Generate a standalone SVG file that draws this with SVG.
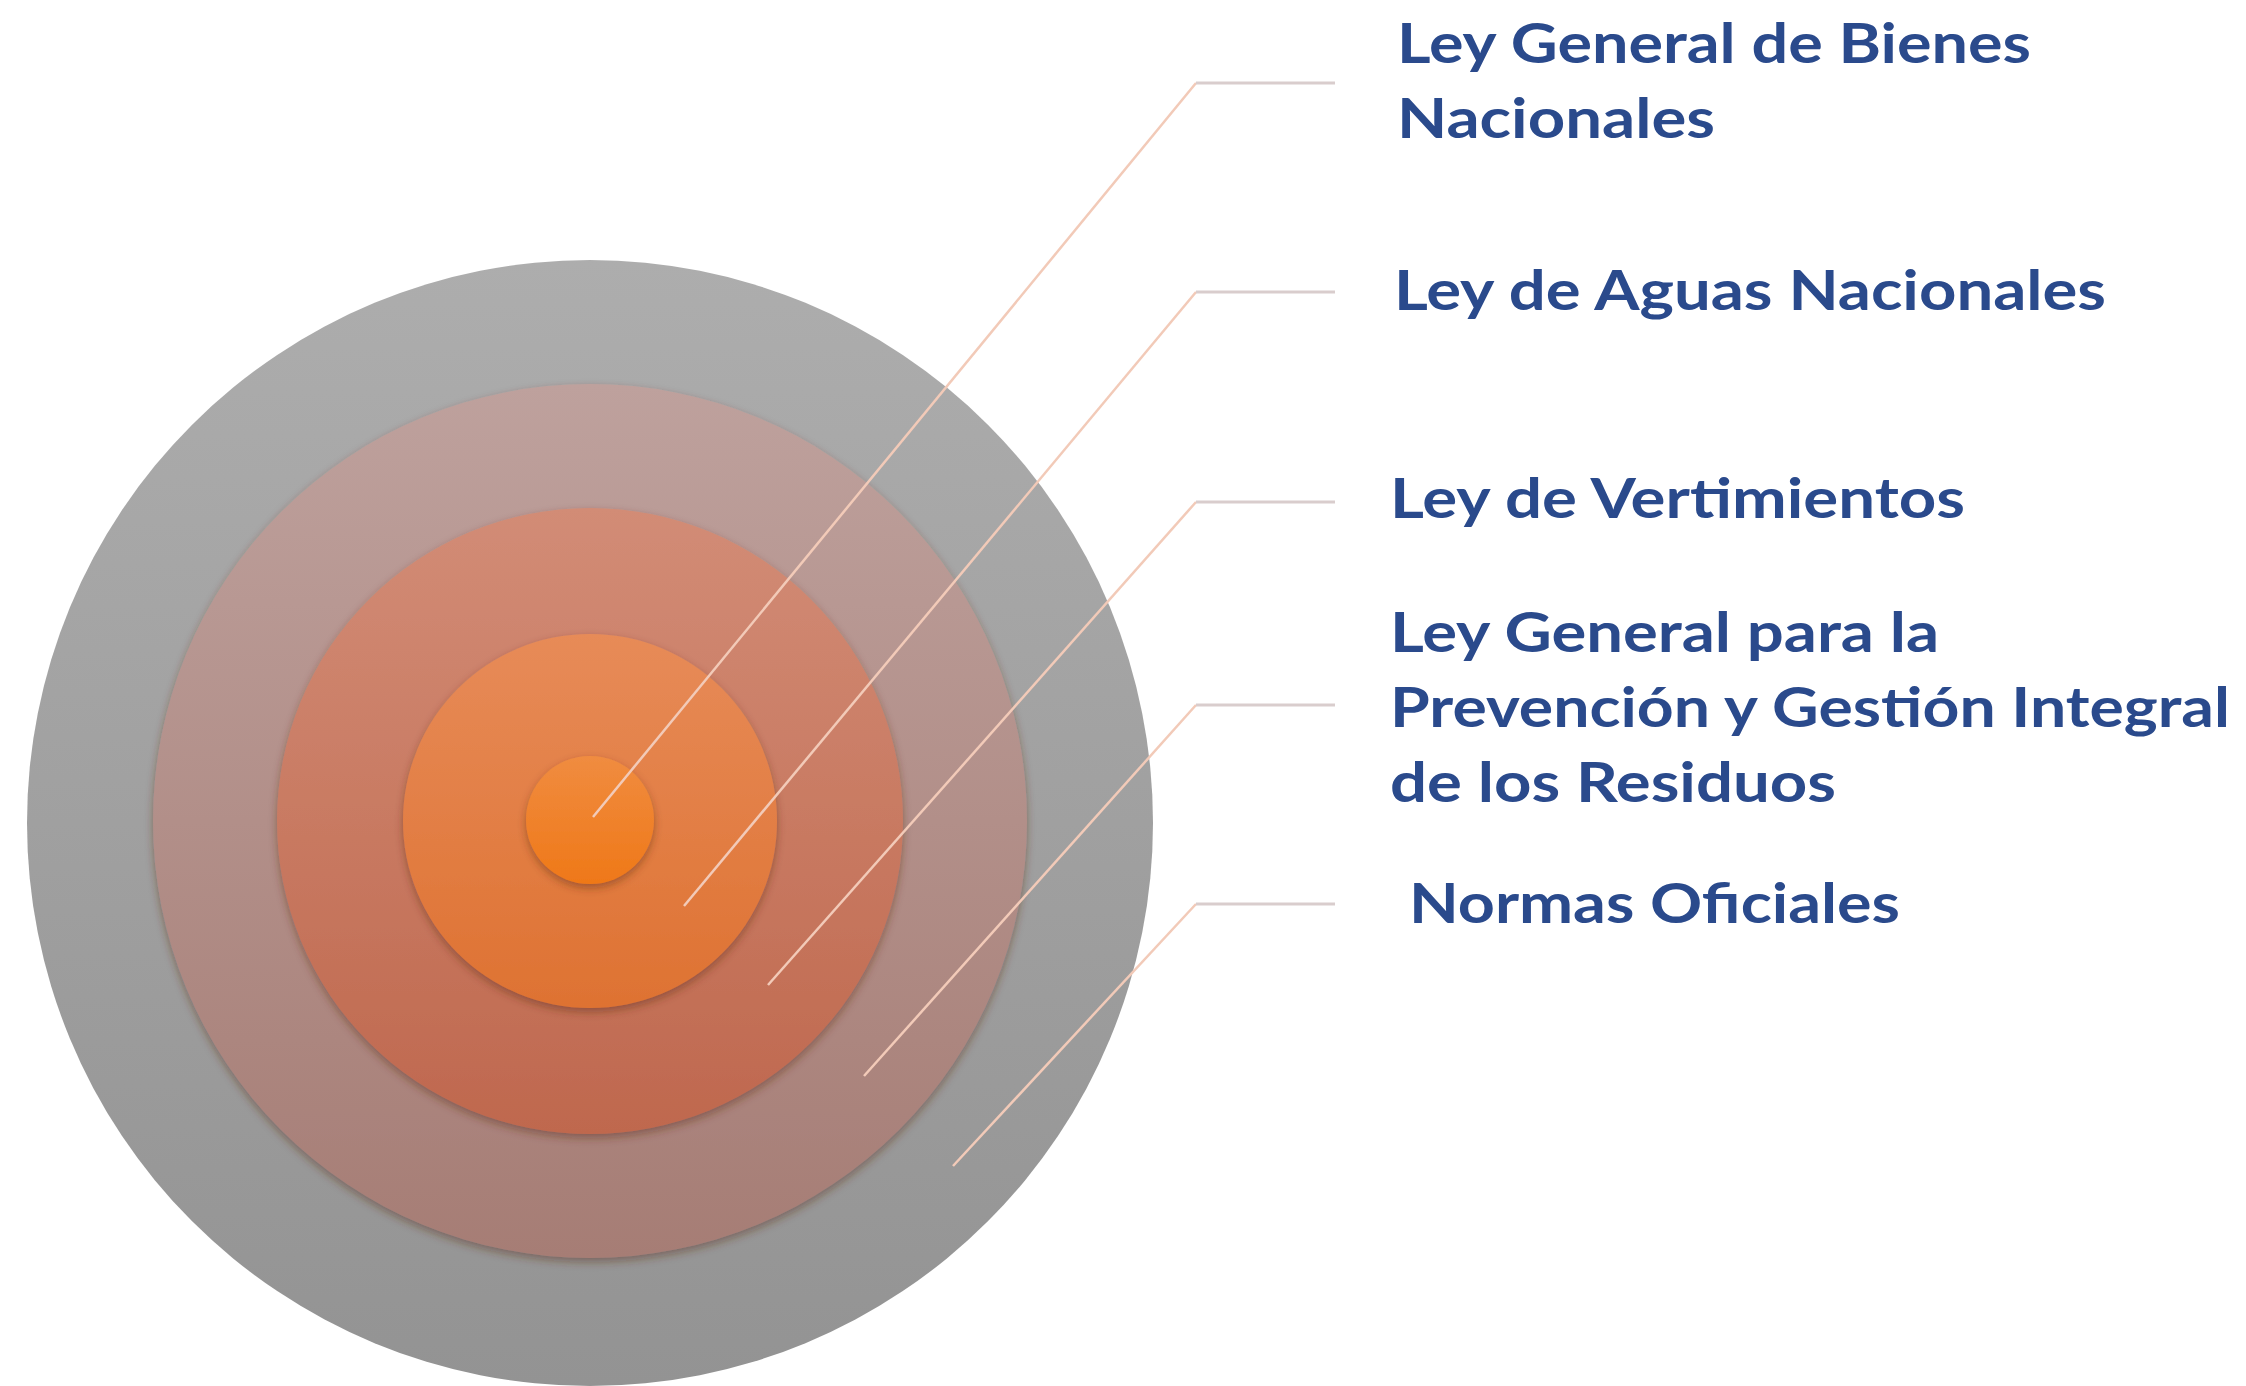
<svg xmlns="http://www.w3.org/2000/svg" width="2246" height="1386" viewBox="0 0 2246 1386">
<defs>
<linearGradient id="gOuter" x1="0" y1="0" x2="0" y2="1"><stop offset="0" stop-color="#adadad"/><stop offset="1" stop-color="#939393"/></linearGradient>
<linearGradient id="g2" x1="0" y1="0" x2="0" y2="1"><stop offset="0" stop-color="#bea19d"/><stop offset="1" stop-color="#a67d75"/></linearGradient>
<linearGradient id="g3" x1="0" y1="0" x2="0" y2="1"><stop offset="0" stop-color="#d28c76"/><stop offset="1" stop-color="#bf684e"/></linearGradient>
<linearGradient id="g4" x1="0" y1="0" x2="0" y2="1"><stop offset="0" stop-color="#e78b58"/><stop offset="1" stop-color="#de7232"/></linearGradient>
<linearGradient id="g5" x1="0" y1="0" x2="0" y2="1"><stop offset="0" stop-color="#f08c40"/><stop offset="1" stop-color="#ef7818"/></linearGradient>
<filter id="sh" x="-20%" y="-20%" width="140%" height="140%"><feDropShadow dx="0" dy="4" stdDeviation="4" flood-color="#5a2a18" flood-opacity="0.45"/></filter>
</defs>
<style>
.lbl{font-family:Lato,"Open Sans","Liberation Sans",sans-serif;font-weight:700;font-size:56px;fill:#2a4a8c}
.diag{stroke:#f2cab8;stroke-width:2.5;fill:none}
.hz{stroke:#d9cdcd;stroke-width:3;fill:none}
</style>
<rect width="2246" height="1386" fill="#ffffff"/>
<g id="ring-outer"><circle cx="590" cy="823" r="563" fill="url(#gOuter)"/></g>
<g id="ring-2"><circle cx="590" cy="821" r="437" fill="url(#g2)" filter="url(#sh)"/></g>
<g id="ring-3"><circle cx="590" cy="821" r="313" fill="url(#g3)" filter="url(#sh)"/></g>
<g id="ring-4"><circle cx="590" cy="821" r="187" fill="url(#g4)" filter="url(#sh)"/></g>
<g id="ring-core"><circle cx="590" cy="820" r="64" fill="url(#g5)" filter="url(#sh)"/></g>
<g id="connectors">
<polyline class="diag" points="593,817 1196,83"/>
<polyline class="diag" points="684,906 1196,292"/>
<polyline class="diag" points="768,985 1196,502"/>
<polyline class="diag" points="864,1076 1196,705"/>
<polyline class="diag" points="953,1166 1196,904"/>
<line class="hz" x1="1196" y1="83" x2="1335" y2="83"/>
<line class="hz" x1="1196" y1="292" x2="1335" y2="292"/>
<line class="hz" x1="1196" y1="502" x2="1335" y2="502"/>
<line class="hz" x1="1196" y1="705" x2="1335" y2="705"/>
<line class="hz" x1="1196" y1="904" x2="1335" y2="904"/>
</g>
<g id="label-1"><text class="lbl" x="1397" y="63" textLength="634" lengthAdjust="spacingAndGlyphs">Ley General de Bienes</text><text class="lbl" x="1397" y="138" textLength="318" lengthAdjust="spacingAndGlyphs">Nacionales</text></g>
<g id="label-2"><text class="lbl" x="1394" y="310" textLength="712" lengthAdjust="spacingAndGlyphs">Ley de Aguas Nacionales</text></g>
<g id="label-3"><text class="lbl" x="1390" y="518" textLength="575" lengthAdjust="spacingAndGlyphs">Ley de Vertimientos</text></g>
<g id="label-4"><text class="lbl" x="1390" y="652" textLength="549" lengthAdjust="spacingAndGlyphs">Ley General para la</text><text class="lbl" x="1390" y="727" textLength="840" lengthAdjust="spacingAndGlyphs">Prevención y Gestión Integral</text><text class="lbl" x="1390" y="802" textLength="446" lengthAdjust="spacingAndGlyphs">de los Residuos</text></g>
<g id="label-5"><text class="lbl" x="1409" y="923" textLength="491" lengthAdjust="spacingAndGlyphs">Normas Oficiales</text></g>
</svg>
